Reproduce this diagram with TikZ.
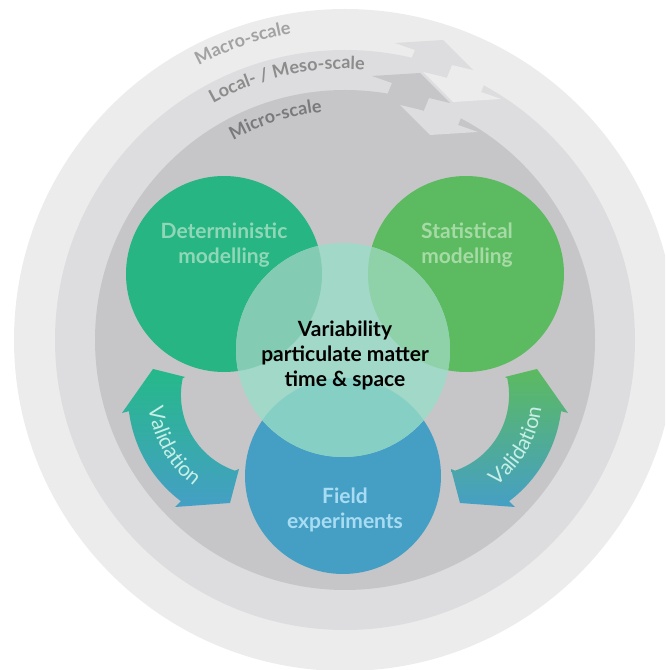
\documentclass[tikz,border=0pt]{standalone}
\usepackage{fontspec}
\setmainfont{Lato}
\usetikzlibrary{decorations.text}

\definecolor{outerring}{HTML}{ECECEC}
\definecolor{midring}{HTML}{DDDDDF}
\definecolor{innerring}{HTML}{C6C6C8}
\definecolor{macrotext}{HTML}{A2A2A2}
\definecolor{mesotext}{HTML}{8C8C8C}
\definecolor{microtext}{HTML}{7A7A7C}
\definecolor{detgreen}{HTML}{27B583}
\definecolor{statgreen}{HTML}{5CBA60}
\definecolor{fieldblue}{HTML}{459FC5}
\definecolor{varmint}{HTML}{A2D8C7}
\definecolor{detmint}{HTML}{84CBB3}
\definecolor{statmint}{HTML}{8FD1A8}
\definecolor{fieldmint}{HTML}{86CFC5}
\definecolor{detlabel}{HTML}{90D7B8}
\definecolor{statlabel}{HTML}{A6DBA6}
\definecolor{fieldlabel}{HTML}{A8DCF2}
\definecolor{vallabel}{HTML}{C6EFE6}

\tikzset{
	scalelabel/.style 2 args={decorate, decoration={text along path, text align=center,
		text={|\bfseries\fontsize{9}{9}\selectfont\color{#1}|#2}}},
	vallabeltext/.style={decorate, decoration={text along path, text align=center,
		text={|\fontsize{10.5}{12}\selectfont\color{vallabel}|Validation}}},
	circlabel/.style={font=\bfseries\fontsize{10.5}{12.5}\selectfont, align=center, inner sep=0pt}
}

% curved double arrow, left one; the right one is its mirror image
\newcommand{\valarrow}[1]{
	\shade[#1] (128.9,258.8) -- (122,257) -- (153,301) -- (185,293) -- (182.7,291.6)
		arc (168:251:80) -- (239,201) -- (230,167) -- (175,163) -- (180.9,168.8)
		arc (233:187:133) -- cycle;
}

\begin{document}
\begin{tikzpicture}[x=0.5pt, y=0.5pt]
	\useasboundingbox (0,0) rectangle (665,670);
	\clip (0,0) rectangle (665,670);

	% scale rings
	\fill[outerring] (345,330) circle (331);
	\fill[midring] (345,330) circle (290);
	\fill[innerring] (345,330) circle (250);

	% arrows between the scales
	\fill[outerring] (453,568) -- (423,598) -- (444,593) -- (449.3,605.9) -- (486.3,590.9) -- (481,578) -- (501,571) -- cycle;
	\fill[midring] (443,630) -- (473,600) -- (452,605) -- (446.7,592.1) -- (409.7,607.1) -- (415,620) -- (395,627) -- cycle;
	\fill[midring] (430,535) -- (400,565) -- (421,560) -- (426.3,572.9) -- (463.3,557.9) -- (458,545) -- (478,538) -- cycle;
	\fill[innerring] (420,597) -- (450,567) -- (429,572) -- (423.7,559.1) -- (386.7,574.1) -- (392,587) -- (372,594) -- cycle;

	\path[scalelabel={macrotext}{Macro-scale}] (345,330) ++(135:311) arc (135:83:311);
	\path[scalelabel={mesotext}{Local- / Meso-scale}] (345,330) ++(135:271) arc (135:70:271);
	\path[scalelabel={microtext}{Micro-scale}] (345,330) ++(140:229) arc (140:75:229);

	% validation arrows
	\valarrow{top color=detgreen!95!cyan, bottom color=fieldblue}
	\begin{scope}[shift={(690,0)}, xscale=-1]
		\valarrow{top color=statgreen, bottom color=fieldblue}
	\end{scope}
	\path[vallabeltext] (261,275) ++(165:113) arc (165:255:113);
	\path[vallabeltext] (429,275) ++(285:113) arc (285:375:113);

	% the four circles
	\fill[detgreen] (224,396) circle (98);
	\fill[statgreen] (466,396) circle (98);
	\fill[fieldblue] (343,194) circle (98);
	\fill[varmint] (343,320) circle (107);
	\begin{scope}
		\clip (343,320) circle (107);
		\fill[detmint] (224,396) circle (98);
		\fill[statmint] (466,396) circle (98);
		\fill[fieldmint] (343,194) circle (98);
	\end{scope}

	\node[circlabel, text=detlabel] (det) at (224,425) {Deterministic\\modelling};
	\node[circlabel, text=statlabel] (stat) at (467,425) {Statistical\\modelling};
	\node[circlabel, text=black] (var) at (345,315) {Variability\\particulate matter\\time \& space};
	\node[circlabel, text=fieldlabel] (field) at (345,160) {Field\\experiments};
\end{tikzpicture}
\end{document}
